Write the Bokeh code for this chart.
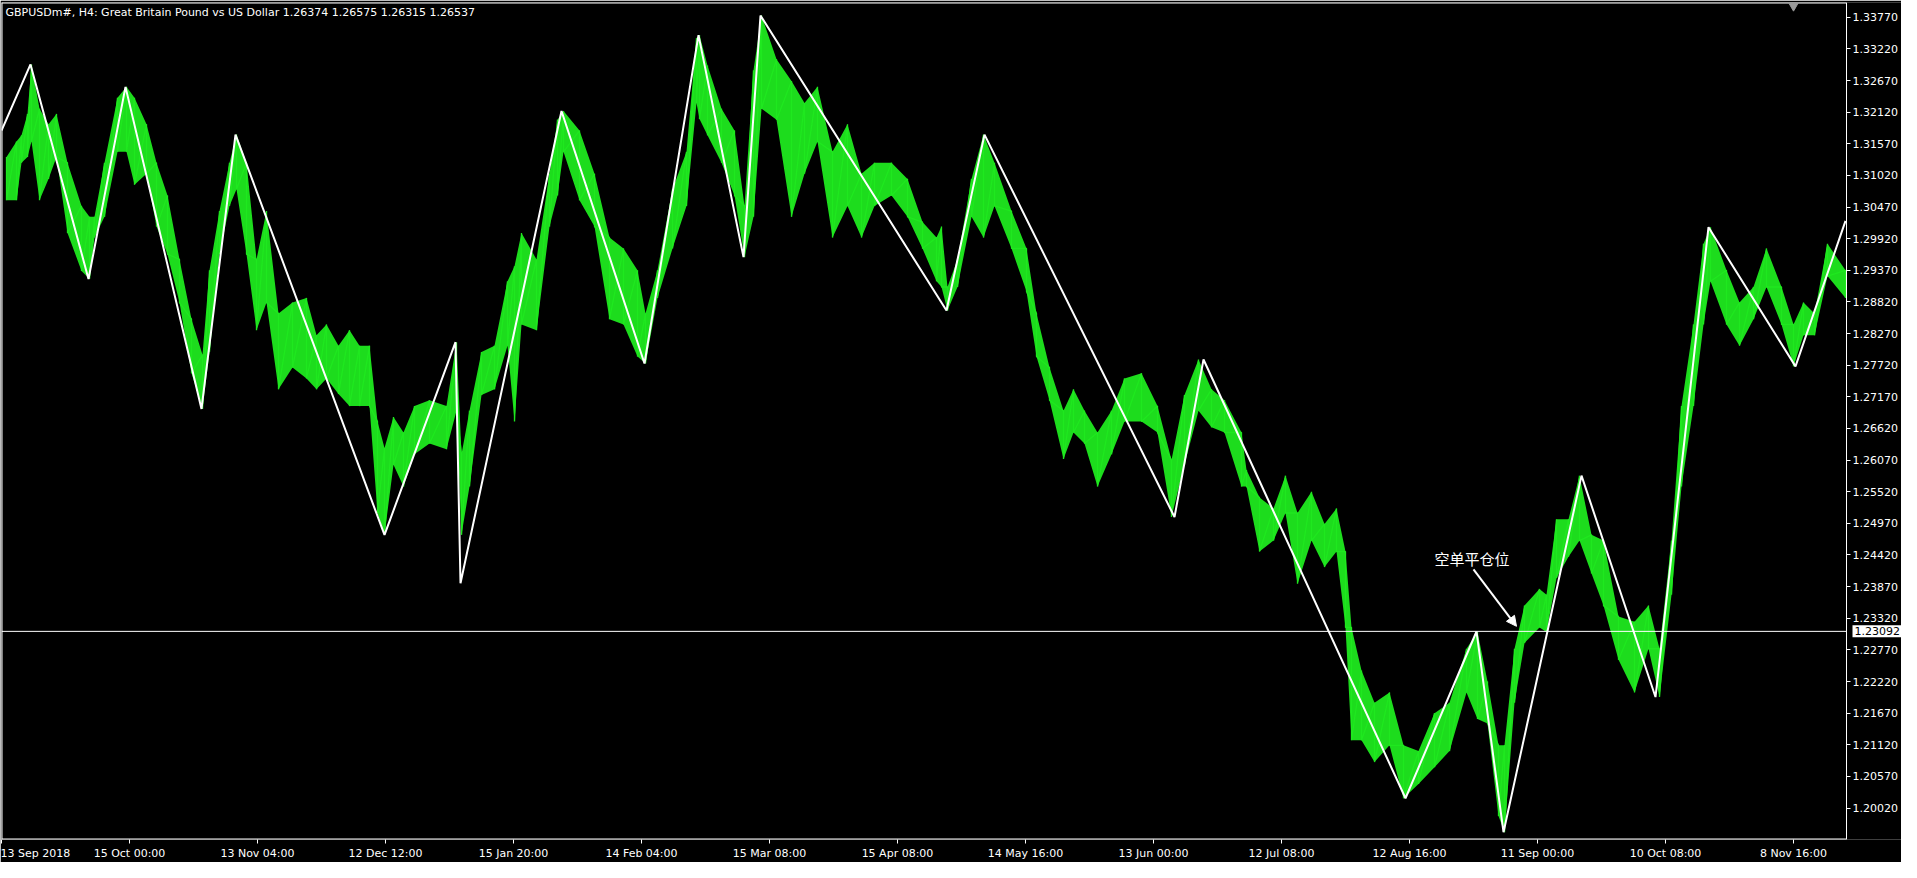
from bokeh.plotting import figure
from bokeh.models import Range1d, FixedTicker, Label, Arrow, NormalHead, LinearAxis
from bokeh.core.properties import value
from bokeh.embed import file_html
from bokeh.resources import INLINE

# ---------------- data ----------------
bar_idx = [5, 15, 20, 26, 30, 38, 47, 55, 66, 80, 88, 93, 103, 116, 125, 133, 145, 155, 166, 178,
           190, 201, 208, 218, 228, 235, 245, 255, 265, 277, 291, 305, 315, 325, 337, 348, 358, 368,
           376, 383, 392, 402, 413, 428, 445, 455, 460, 468, 480, 493, 506, 513, 520, 535, 548, 556,
           562, 578, 593, 608, 622, 636, 644, 656, 671, 685, 695, 698, 706, 720, 733, 743, 752, 760,
           775, 790, 803, 816, 831, 846, 860, 873, 890, 906, 921, 935, 940, 946, 956, 970, 982, 993,
           1010, 1025, 1035, 1048, 1062, 1072, 1083, 1096, 1110, 1123, 1140, 1156, 1170, 1183, 1197,
           1210, 1223, 1240, 1245, 1258, 1272, 1284, 1296, 1310, 1323, 1335, 1344, 1350, 1360, 1373,
           1388, 1402, 1417, 1433, 1448, 1465, 1476, 1486, 1497, 1503, 1513, 1523, 1538, 1545, 1555,
           1567, 1578, 1590, 1602, 1617, 1633, 1647, 1658, 1670, 1680, 1692, 1702, 1709, 1725, 1738,
           1752, 1765, 1780, 1792, 1802, 1813, 1826, 1844]
bar_high = [1.3134, 1.3161, 1.3172, 1.3209, 1.3295, 1.3218, 1.3191, 1.3209, 1.3124, 1.3049, 1.3030,
            1.3030, 1.3124, 1.3237, 1.3256, 1.3237, 1.3191, 1.3124, 1.3067, 1.2956, 1.2852, 1.2790,
            1.2937, 1.3040, 1.3124, 1.3173, 1.3124, 1.2956, 1.3040, 1.2862, 1.2881, 1.2889, 1.2824,
            1.2843, 1.2806, 1.2833, 1.2806, 1.2806, 1.2674, 1.2628, 1.2682, 1.2655, 1.2701, 1.2711,
            1.2701, 1.2812, 1.2617, 1.2693, 1.2795, 1.2806, 1.2918, 1.2944, 1.3002, 1.2956, 1.3105,
            1.3199, 1.3214, 1.3180, 1.3105, 1.2994, 1.2975, 1.2937, 1.2862, 1.2937, 1.3078, 1.3143,
            1.3341, 1.3346, 1.3293, 1.3218, 1.3180, 1.3049, 1.3285, 1.3380, 1.3304, 1.3266, 1.3228,
            1.3256, 1.3143, 1.3191, 1.3105, 1.3124, 1.3124, 1.3096, 1.3021, 1.2994, 1.3013, 1.2908,
            1.2956, 1.3096, 1.3173, 1.3124, 1.3040, 1.2975, 1.2862, 1.2768, 1.2693, 1.2730, 1.2693,
            1.2655, 1.2693, 1.2749, 1.2758, 1.2701, 1.2607, 1.2720, 1.2782, 1.2730, 1.2711, 1.2655,
            1.2590, 1.2542, 1.2523, 1.2580, 1.2515, 1.2552, 1.2496, 1.2523, 1.2448, 1.2316, 1.2241,
            1.2185, 1.2203, 1.2111, 1.2101, 1.2167, 1.2185, 1.2279, 1.2308, 1.2222, 1.2111, 1.2111,
            1.2279, 1.2354, 1.2383, 1.2373, 1.2504, 1.2504, 1.2580, 1.2477, 1.2467, 1.2335, 1.2326,
            1.2354, 1.2279, 1.2467, 1.2701, 1.2843, 1.2983, 1.3012, 1.2937, 1.2881, 1.2908, 1.2975,
            1.2908, 1.2843, 1.2881, 1.2862, 1.2983, 1.2937]
bar_low = [1.3059, 1.3059, 1.3124, 1.3134, 1.3161, 1.3059, 1.3096, 1.3134, 1.3002, 1.2936, 1.2922,
           1.2994, 1.3030, 1.3143, 1.3143, 1.3086, 1.3105, 1.3013, 1.2965, 1.2881, 1.2758, 1.2696,
           1.2795, 1.2965, 1.3049, 1.3078, 1.2965, 1.2833, 1.2881, 1.2730, 1.2768, 1.2749, 1.2730,
           1.2749, 1.2722, 1.2701, 1.2701, 1.2701, 1.2515, 1.2477, 1.2599, 1.2561, 1.2617, 1.2636,
           1.2626, 1.2693, 1.2477, 1.2561, 1.2720, 1.2730, 1.2806, 1.2674, 1.2843, 1.2833, 1.3013,
           1.3067, 1.3143, 1.3059, 1.3013, 1.2852, 1.2843, 1.2787, 1.2775, 1.2889, 1.2975, 1.3049,
           1.3228, 1.3200, 1.3172, 1.3124, 1.3067, 1.2960, 1.3030, 1.3218, 1.3199, 1.3030, 1.3105,
           1.3161, 1.2994, 1.3049, 1.2994, 1.3049, 1.3067, 1.3030, 1.2975, 1.2918, 1.2908, 1.2867,
           1.2908, 1.3030, 1.2994, 1.3049, 1.2975, 1.2900, 1.2787, 1.2711, 1.2609, 1.2655, 1.2636,
           1.2561, 1.2617, 1.2674, 1.2674, 1.2655, 1.2508, 1.2599, 1.2693, 1.2664, 1.2655, 1.2561,
           1.2561, 1.2448, 1.2467, 1.2515, 1.2392, 1.2467, 1.2421, 1.2448, 1.2316, 1.2120, 1.2120,
           1.2082, 1.2111, 1.2019, 1.2044, 1.2073, 1.2101, 1.2203, 1.2157, 1.2149, 1.1988, 1.1960,
           1.2185, 1.2289, 1.2316, 1.2308, 1.2402, 1.2439, 1.2467, 1.2410, 1.2354, 1.2260, 1.2203,
           1.2279, 1.2195, 1.2373, 1.2561, 1.2701, 1.2843, 1.2918, 1.2843, 1.2806, 1.2852, 1.2908,
           1.2843, 1.2770, 1.2824, 1.2824, 1.2927, 1.2889]

zigzag_idx = [0, 29, 87, 124, 200, 234, 383, 454, 459, 560, 643, 697, 742, 759, 945, 983, 1173,
              1202, 1404, 1475, 1502, 1580, 1654, 1707, 1794, 1844]
zigzag_price = [1.3180, 1.3295, 1.2922, 1.3256, 1.2696, 1.3173, 1.2477, 1.2812, 1.2393, 1.3214,
                1.2775, 1.3346, 1.2960, 1.3380, 1.2867, 1.3173, 1.2508, 1.2782, 1.2019, 1.2309,
                1.1960, 1.2580, 1.2195, 1.3012, 1.2770, 1.3023]

time_tick_idx = [0, 128, 256, 384, 512, 640, 768, 896, 1024, 1152, 1280, 1408, 1536, 1664, 1792]
time_tick_labels = ["13 Sep 2018", "15 Oct 00:00", "13 Nov 04:00", "12 Dec 12:00", "15 Jan 20:00",
                    "14 Feb 04:00", "15 Mar 08:00", "15 Apr 08:00", "14 May 16:00", "13 Jun 00:00",
                    "12 Jul 08:00", "12 Aug 16:00", "11 Sep 00:00", "10 Oct 08:00", "8 Nov 16:00"]
price_ticks = [1.20020, 1.20570, 1.21120, 1.21670, 1.22220, 1.22770, 1.23320, 1.23870, 1.24420,
               1.24970, 1.25520, 1.26070, 1.26620, 1.27170, 1.27720, 1.28270, 1.28820, 1.29370,
               1.29920, 1.30470, 1.31020, 1.31570, 1.32120, 1.32670, 1.33220, 1.33770]
close_level = 1.23092
header_text = "GBPUSDm#, H4:  Great Britain Pound vs US Dollar  1.26374 1.26575 1.26315 1.26537"
note_text = "空单平仓位"
note_idx, note_price = 1433, 1.2436
arrow_from = (1472, 1.2417)
arrow_to = (1515, 1.2318)

# ---------------- figure ----------------
X0, XD, X1 = 0, 1845, 1900          # data ends at XD, the price scale sits beyond it
Y0, Y1 = 1.19473, 1.34027
WHITE = "white"
GREEN = "#1fe81f"

p = figure(width=1901, height=862, output_backend="svg", toolbar_location=None,
           x_range=Range1d(X0, X1), y_range=Range1d(Y0, Y1), y_axis_location=None,
           background_fill_color="black", border_fill_color="black",
           min_border_left=1, min_border_top=2, min_border_right=0, min_border_bottom=0)
p.grid.visible = False
p.outline_line_color = None

# price scale drawn at the right edge of the data area
yax = LinearAxis(fixed_location=XD, ticker=FixedTicker(ticks=price_ticks))
yax.major_label_overrides = {t: f"{t:.5f}" for t in price_ticks}
yax.major_label_standoff = 2
p.add_layout(yax, "right")

xax = p.xaxis[0]
xax.ticker = FixedTicker(ticks=time_tick_idx)
xax.major_label_overrides = {t: l for t, l in zip(time_tick_idx, time_tick_labels)}
xax.major_label_text_align = "left"
xax.major_label_standoff = 3
xax.axis_line_color = None

for ax in (xax, yax):
    ax.major_tick_line_color = WHITE
    ax.minor_tick_line_color = None
    ax.major_tick_in = 0
    ax.major_tick_out = 4
    ax.major_label_text_color = WHITE
    ax.major_label_text_font = "DejaVu Sans"
    ax.major_label_text_font_size = "11px"
yax.axis_line_color = WHITE

# chart border (left, top, bottom)
p.segment(x0=[X0, X0, X0], y0=[Y0, Y1, Y0], x1=[X0, XD, XD], y1=[Y1, Y1, Y0],
          line_color=WHITE, line_width=2)

# green price bars (high/low envelope)
saw_x, saw_y = [], []
for i, h, l in zip(bar_idx, bar_high, bar_low):
    saw_x += [i, i]
    saw_y += [h, l]
p.varea(x=bar_idx, y1=bar_low, y2=bar_high, fill_color=GREEN, fill_alpha=0.95)
p.line(saw_x, saw_y, line_color=GREEN, line_width=1.3)

# zigzag
p.line(zigzag_idx, zigzag_price, line_color=WHITE, line_width=2)

# horizontal level line
p.segment(x0=[X0], y0=[close_level], x1=[XD], y1=[close_level], line_color=WHITE, line_width=1)

# header
p.add_layout(Label(x=4, y=Y1, x_units="screen", y_units="data", text=header_text,
                   text_color=WHITE, text_font="DejaVu Sans", text_font_size="11px",
                   text_baseline="top", y_offset=-3))

# annotation
p.text(x=[note_idx], y=[note_price], text=[note_text], text_font=value("Noto Sans CJK SC"),
       text_font_size="15px", text_color=WHITE, text_baseline="middle", text_align="left")
p.add_layout(Arrow(end=NormalHead(size=10, fill_color=WHITE, line_color=WHITE),
                   x_start=arrow_from[0], y_start=arrow_from[1],
                   x_end=arrow_to[0], y_end=arrow_to[1],
                   line_color=WHITE, line_width=2))

# price box on the scale
p.add_layout(Label(x=XD, y=close_level, x_units="data", y_units="data", text=f"{close_level:.5f}",
                   x_offset=6, text_color="black", text_font="DejaVu Sans", text_font_size="11px",
                   text_baseline="middle", background_fill_color=WHITE, padding=2))

# chart shift marker
p.scatter(x=[1792], y=[Y1 - 0.0004], marker="inverted_triangle", size=11, fill_color="#9a9a9a",
          line_color="#9a9a9a")

open("out.html", "w").write(file_html(p, INLINE))
